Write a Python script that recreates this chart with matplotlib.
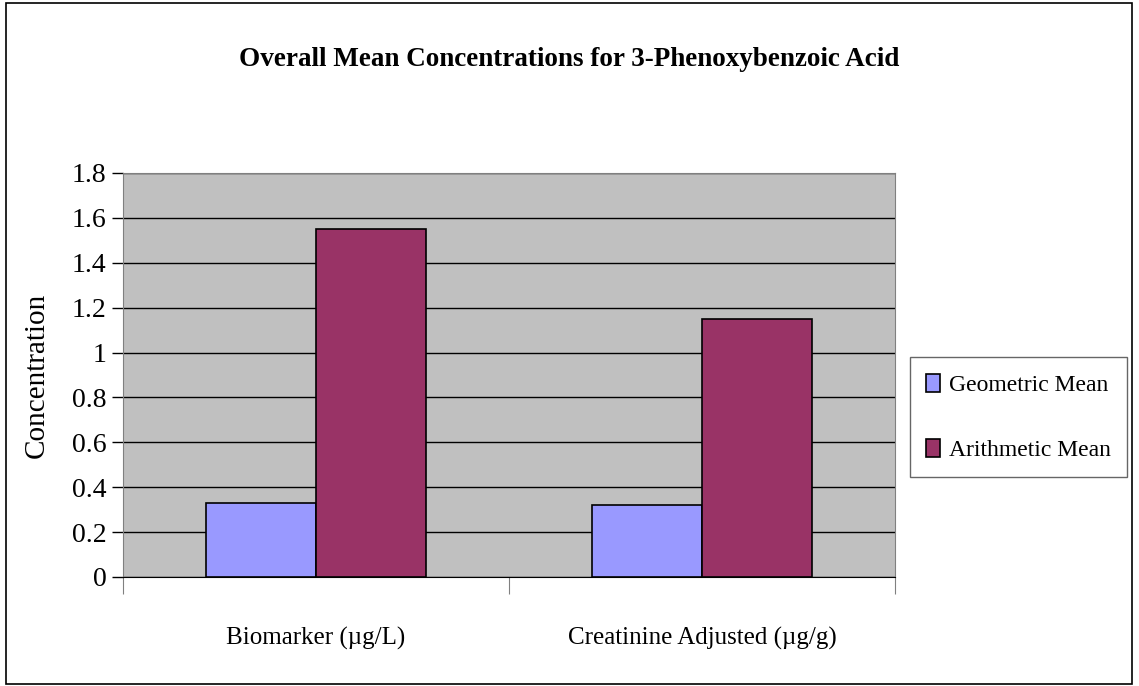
import numpy as np
import matplotlib
matplotlib.use("Agg")
import matplotlib.pyplot as plt
from matplotlib.patches import Rectangle

categories = ["Biomarker (\u00b5g/L)", "Creatinine Adjusted (\u00b5g/g)"]
geometric_mean = [0.33, 0.32]
arithmetic_mean = [1.55, 1.15]
series_names = ["Geometric Mean", "Arithmetic Mean"]
y_ticks = [0, 0.2, 0.4, 0.6, 0.8, 1, 1.2, 1.4, 1.6, 1.8]
y_tick_labels = ["0", "0.2", "0.4", "0.6", "0.8", "1", "1.2", "1.4", "1.6", "1.8"]

plt.rcParams['font.family'] = ['Liberation Serif', 'DejaVu Serif']

fig = plt.figure(figsize=(11.39, 6.86), dpi=100)
ax = fig.add_axes([123/1139, 1 - 577/686, (895 - 123)/1139, (577 - 173)/686])

# outer chart border
fig.add_artist(Rectangle((6/1139, 2/686), 1126/1139, 681/686, transform=fig.transFigure,
                         fill=False, ec='black', lw=1.2))

x = np.arange(len(categories))
w = 1 / 3.5
ax.bar(x - w/2, geometric_mean, w, color='#9999FF', edgecolor='black', lw=1.2,
       label=series_names[0], zorder=3)
ax.bar(x + w/2, arithmetic_mean, w, color='#993366', edgecolor='black', lw=1.2,
       label=series_names[1], zorder=3)

ax.set_facecolor('#C0C0C0')
ax.set_xlim(-0.5, len(categories) - 0.5)
ax.set_ylim(0, 1.8)
ax.set_yticks(y_ticks)
ax.set_yticklabels(y_tick_labels, fontsize=20)
ax.yaxis.grid(True, color='black', lw=1)
ax.set_axisbelow(True)

# category labels between the boundary ticks
ax.set_xticks(np.arange(len(categories) + 1) - 0.5)
ax.set_xticklabels([])
ax.set_xticks(x, minor=True)
ax.set_xticklabels(categories, minor=True, fontsize=18)
ax.tick_params(axis='x', which='minor', length=0, pad=36)
ax.tick_params(axis='x', which='major', length=12, width=0.8, color='#808080')
ax.tick_params(axis='y', length=8, width=1, direction='out', pad=4)

ax.spines['top'].set_color('#808080')
ax.spines['right'].set_color('#808080')
ax.spines['left'].set_color('#808080')
ax.spines['bottom'].set_color('black')

ax.set_ylabel("Concentration", fontsize=21)
ax.yaxis.set_label_coords(-(123 - 50)/772, 0.5)
fig.text(0.5, 1 - 60/686, "Overall Mean Concentrations for 3-Phenoxybenzoic Acid",
         ha='center', va='center', fontsize=19.5, fontweight='bold')

leg = ax.legend(loc='center left', bbox_to_anchor=(1.019, 0.395), fontsize=17,
                frameon=True, fancybox=False, edgecolor='#404040', handlelength=0.6,
                handleheight=0.8, handletextpad=0.35, labelspacing=1.8,
                borderpad=0.7, borderaxespad=0)
leg.get_frame().set_linewidth(1)

fig.savefig("out.png", dpi=100)
